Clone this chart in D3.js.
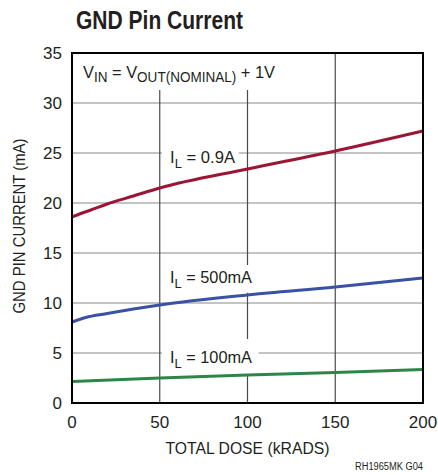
<!DOCTYPE html>
<html>
<head>
<meta charset="utf-8">
<script src="https://cdn.jsdelivr.net/npm/d3@7"></script>
<style>
  body { margin: 0; background: #fff; }
  svg { display: block; }
  text { font-family: "Liberation Sans Narrow", "Liberation Sans", Arial, sans-serif; fill: #231f20; }
</style>
</head>
<body>
<script>
// data
const doseHigh = [0, 5, 10, 20, 35, 50, 100, 150, 200];
const current900 = [18.6, 18.95, 19.25, 19.9, 20.7, 21.5, 23.4, 25.2, 27.2];
const doseMid = [0, 5, 10, 20, 35, 50, 100, 150, 200];
const current500 = [8.1, 8.4, 8.65, 8.95, 9.4, 9.8, 10.8, 11.6, 12.5];
const doseLow = [0, 50, 100, 150, 200];
const current100 = [2.15, 2.5, 2.8, 3.05, 3.35];
const xTicks = [0, 50, 100, 150, 200];
const yTicks = [0, 5, 10, 15, 20, 25, 30, 35];

const W = 438, H = 475;
const margin = {top: 53, right: 15, bottom: 72, left: 72};
const w = W - margin.left - margin.right,
      h = H - margin.top - margin.bottom;

const svg = d3.select("body").append("svg")
    .attr("width", W).attr("height", H);

const g = svg.append("g")
    .attr("transform", "translate(" + margin.left + "," + margin.top + ")");

const x = d3.scaleLinear().domain([0, 200]).range([0, w]);
const y = d3.scaleLinear().domain([0, 35]).range([h, 0]);

// grid
g.selectAll(".hgrid").data(yTicks.slice(1, -1)).enter().append("line")
    .attr("x1", 0).attr("x2", w)
    .attr("y1", d => y(d)).attr("y2", d => y(d))
    .attr("stroke", "#8a8a8a").attr("stroke-width", 1.2);
g.selectAll(".vgrid").data(xTicks.slice(1, -1)).enter().append("line")
    .attr("x1", d => x(d)).attr("x2", d => x(d))
    .attr("y1", 0).attr("y2", h)
    .attr("stroke", "#4a4a4a").attr("stroke-width", 1.2);

// labels on white boxes (they cut the grid)
function label(gx, gy, main, sub, rest, size, pad, len) {
  const t = g.append("text").attr("x", gx).attr("y", gy).style("font-size", size + "px");
  t.append("tspan").text(main);
  t.append("tspan").attr("dy", size * 0.28).style("font-size", (size * 0.78) + "px").text(sub);
  t.append("tspan").attr("dy", -size * 0.28).text(rest);
  if (len) t.attr("textLength", len).attr("lengthAdjust", "spacingAndGlyphs");
  const b = t.node().getBBox();
  g.insert("rect", function() { return t.node(); })
      .attr("x", b.x - pad[3]).attr("y", b.y - pad[0])
      .attr("width", b.width + pad[1] + pad[3]).attr("height", b.height + pad[0] + pad[2])
      .attr("fill", "#fff");
  return t;
}

// header: V_IN = V_OUT(NOMINAL) + 1V
const hdr = g.append("text").attr("x", 11).attr("y", 25).style("font-size", "17px")
    .attr("textLength", 192).attr("lengthAdjust", "spacingAndGlyphs");
hdr.append("tspan").text("V");
hdr.append("tspan").attr("dy", 4).style("font-size", "14px").text("IN");
hdr.append("tspan").attr("dy", -4).text(" = V");
hdr.append("tspan").attr("dy", 4).style("font-size", "14px").text("OUT(NOMINAL)");
hdr.append("tspan").attr("dy", -4).text(" + 1V");
const hb = hdr.node().getBBox();
g.insert("rect", function() { return hdr.node(); })
    .attr("x", 1).attr("y", 1).attr("width", hb.x + hb.width + 12).attr("height", 36)
    .attr("fill", "#fff");

label(98, 110, "I", "L", " = 0.9A", 17, [3, 3, 2, 8], 65);
label(98, 230, "I", "L", " = 500mA", 17, [3, 3, 2, 8], 82);
label(98, 310, "I", "L", " = 100mA", 17, [9, 6, 5, 8], 82);

// curves
const line = d3.line().x(d => x(d[0])).y(d => y(d[1])).curve(d3.curveMonotoneX);
const series = [
  {dose: doseHigh, val: current900, color: "#9b1535"},
  {dose: doseMid, val: current500, color: "#3a52a3"},
  {dose: doseLow, val: current100, color: "#2f8547"}
];
series.forEach(s => {
  g.append("path")
      .datum(s.dose.map((d, i) => [d, s.val[i]]))
      .attr("d", line)
      .attr("fill", "none")
      .attr("stroke", s.color)
      .attr("stroke-width", 3);
});

// frame
g.append("rect").attr("width", w).attr("height", h)
    .attr("fill", "none").attr("stroke", "#000").attr("stroke-width", 2);

// tick labels
g.selectAll(".ytl").data(yTicks).enter().append("text")
    .attr("x", -10).attr("y", d => y(d) + 6)
    .attr("text-anchor", "end").style("font-size", "17px")
    .text(d => d);
g.selectAll(".xtl").data(xTicks).enter().append("text")
    .attr("x", d => x(d)).attr("y", h + 25)
    .attr("text-anchor", "middle").style("font-size", "17px")
    .text(d => d);

// axis titles
g.append("text").attr("x", w / 2).attr("y", h + 51)
    .attr("text-anchor", "middle").style("font-size", "17px")
    .attr("textLength", 164).attr("lengthAdjust", "spacingAndGlyphs")
    .text("TOTAL DOSE (kRADS)");
g.append("text")
    .attr("transform", "translate(" + (-47) + "," + (h / 2 - 2) + ") rotate(-90)")
    .attr("text-anchor", "middle").style("font-size", "17px")
    .attr("textLength", 175).attr("lengthAdjust", "spacingAndGlyphs")
    .text("GND PIN CURRENT (mA)");

// title and part code
svg.append("text").attr("x", 76).attr("y", 29)
    .style("font-size", "25px").style("font-weight", "bold")
    .attr("textLength", 167).attr("lengthAdjust", "spacingAndGlyphs")
    .text("GND Pin Current");
svg.append("text").attr("x", margin.left + w).attr("y", 470)
    .attr("text-anchor", "end").style("font-size", "10px")
    .attr("textLength", 68).attr("lengthAdjust", "spacingAndGlyphs")
    .text("RH1965MK G04");
</script>
</body>
</html>
